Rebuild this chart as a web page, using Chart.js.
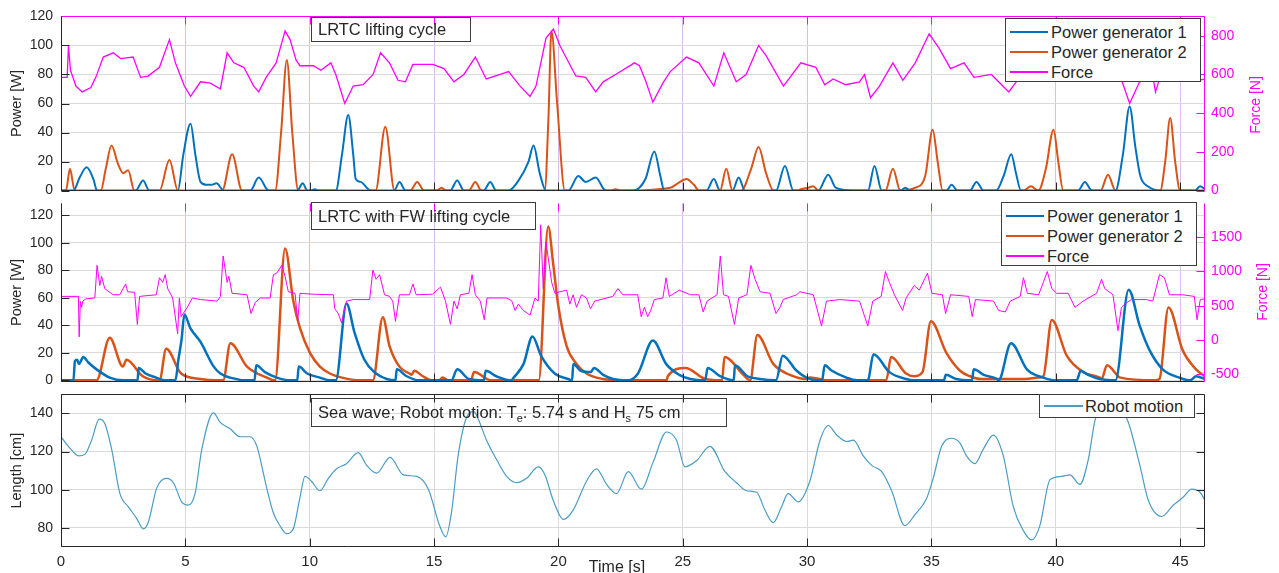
<!DOCTYPE html>
<html>
<head>
<meta charset="utf-8">
<script src="https://cdn.jsdelivr.net/npm/chart.js@4.4.1/dist/chart.umd.min.js"></script>
<style>
  body { margin: 0; background: #fff; width: 1279px; height: 573px; overflow: hidden; position: relative;
         font-family: 'Liberation Sans', Arial, sans-serif; color: #262626; }
  canvas { position: absolute; left: 0; }
  .box { position: absolute; border: 1px solid #3c3c3c; box-sizing: border-box; white-space: nowrap; font-size: 16.5px; z-index: 2; }
  .legend { background: #fff; }
  .row { position: absolute; left: 0; right: 0; height: 20px; line-height: 20px; }
  .sw { position: absolute; top: 9px; height: 2px; }
  .lbl { position: absolute; }
  .vt { position: absolute; transform: translate(-50%, -50%) rotate(-90deg); font-size: 14px; color: #ff00ff; white-space: nowrap; z-index: 2; }
  sub { font-size: 11px; vertical-align: -4px; }
</style>
</head>
<body>
<canvas id="liftChart" width="1279" height="207" style="top:0"></canvas>
<canvas id="fwChart" width="1279" height="211" style="top:187px"></canvas>
<canvas id="waveChart" width="1279" height="195" style="top:378px"></canvas>

<div class="box" style="left:311px;top:17px;width:160px;height:25px;line-height:23px;padding-left:6px">LRTC lifting cycle</div>
<div class="box" style="left:311px;top:202px;width:225px;height:28px;line-height:26px;padding-left:6px">LRTC with FW lifting cycle</div>
<div class="box" style="left:311px;top:398px;width:416px;height:29px;line-height:26px;padding-left:6px">Sea wave; Robot motion: T<sub>e</sub>: 5.74 s and H<sub>s</sub> 75 cm</div>

<div class="box legend" style="left:1005px;top:18px;width:196px;height:64px">
  <div class="row" style="top:3px"><span class="sw" style="left:4px;width:38px;background:#0072BD"></span><span class="lbl" style="left:45px">Power generator 1</span></div>
  <div class="row" style="top:23px"><span class="sw" style="left:4px;width:38px;background:#D95319"></span><span class="lbl" style="left:45px">Power generator 2</span></div>
  <div class="row" style="top:43px"><span class="sw" style="left:4px;width:38px;background:#ff00ff"></span><span class="lbl" style="left:45px">Force</span></div>
</div>
<div class="box legend" style="left:1001px;top:202px;width:196px;height:64px">
  <div class="row" style="top:3px"><span class="sw" style="left:4px;width:38px;background:#0072BD"></span><span class="lbl" style="left:45px">Power generator 1</span></div>
  <div class="row" style="top:23px"><span class="sw" style="left:4px;width:38px;background:#D95319"></span><span class="lbl" style="left:45px">Power generator 2</span></div>
  <div class="row" style="top:43px"><span class="sw" style="left:4px;width:38px;background:#ff00ff"></span><span class="lbl" style="left:45px">Force</span></div>
</div>
<div class="box legend" style="left:1039px;top:394px;width:156px;height:24px">
  <div class="row" style="top:1px"><span class="sw" style="left:4px;width:39px;background:#4a9cc4"></span><span class="lbl" style="left:45px">Robot motion</span></div>
</div>

<div class="vt" style="left:1255px;top:105px">Force [N]</div>
<div class="vt" style="left:1262px;top:292px">Force [N]</div>
<div style="position:absolute;left:617px;top:567px;transform:translate(-50%,-50%);font-size:16px;z-index:2">Time [s]</div>

<script>
// tick values
const timeTicks = [0, 5, 10, 15, 20, 25, 30, 35, 40, 45];
const powerTicks = [0, 20, 40, 60, 80, 100, 120];
const forceTicksLift = [0, 200, 400, 600, 800];
const forceTicksFW = [-500, 0, 500, 1000, 1500];
const lengthTicks = [80, 100, 120, 140];

// LRTC lifting cycle: [time s, power W]
const gen1Lift = [[0,0],[0.5,0],[0.75,9],[1.03,16],[1.3,8],[1.45,0],[3.0,0],[3.3,7],[3.55,0],[4.7,0],[4.92,25],[5.21,46],[5.4,25],[5.61,6],[5.85,4],[6.05,4],[6.25,5],[6.55,0],[7.61,0],[7.95,9],[8.35,0],[9.5,0],[9.72,5],[9.9,0],[10.05,0],[10.2,1],[10.35,0],[11.05,0],[11.3,25],[11.55,52],[11.75,25],[11.85,8],[12.05,6],[12.45,0],[13.4,0],[13.61,6],[13.85,0],[15.65,0],[15.93,7],[16.2,0],[17.0,0],[17.26,6],[17.5,0],[18.0,0],[18.4,7],[18.8,20],[19.0,31],[19.25,12],[19.5,0],[20.4,0],[20.8,10],[21.1,6],[21.5,9],[21.9,0],[23.0,0],[23.5,8],[23.86,27],[24.1,10],[24.26,0],[25.95,0],[26.25,8],[26.5,0],[27.0,0],[27.25,9],[27.5,0],[28.75,0],[29.11,17],[29.45,0],[30.45,0],[30.85,11],[31.15,2],[31.85,0],[32.45,0],[32.71,17],[33.0,0],[33.75,0],[33.95,2],[34.15,0],[35.6,0],[35.81,4],[36.05,0],[36.55,0],[36.81,6],[37.1,0],[37.6,0],[37.9,10],[38.21,25],[38.4,12],[38.6,0],[40.9,0],[41.17,6],[41.45,0],[42.4,0],[42.7,25],[42.97,58],[43.2,30],[43.4,10],[43.7,3],[44.2,0],[45.6,0],[45.8,3],[46,1]];
const gen2Lift = [[0,0],[0.2,0],[0.36,15],[0.55,0],[1.6,0],[1.8,15],[2.03,31],[2.3,18],[2.5,12],[2.7,14],[2.95,0],[3.96,0],[4.36,21],[4.7,0],[6.48,0],[6.88,25],[7.28,0],[8.61,0],[8.85,40],[9.08,90],[9.3,40],[9.54,0],[12.65,0],[13.04,44],[13.41,0],[14.05,0],[14.32,6],[14.6,0],[15.1,0],[15.3,2],[15.5,0],[16.4,0],[16.66,6],[16.9,0],[19.45,0],[19.6,50],[19.72,110],[19.95,60],[20.26,0],[22.1,0],[22.3,1],[22.5,0],[24.5,2],[24.8,5],[25.15,8],[25.45,4],[25.65,0],[26.5,0],[26.75,15],[27.0,0],[27.35,0],[27.75,15],[28.05,30],[28.35,12],[28.65,0],[29.65,0],[29.75,1],[30.05,2],[30.25,3],[30.45,0],[33.15,0],[33.45,15],[33.75,0],[34.35,2],[34.75,10],[35.05,42],[35.25,20],[35.45,0],[38.7,0],[39.0,3],[39.3,0],[39.6,15],[39.91,42],[40.1,20],[40.3,0],[41.8,0],[42.1,11],[42.4,0],[44.2,0],[44.4,20],[44.6,50],[44.8,20],[45.0,0],[46,0]];
// [time s, force N]
const forceLift = [[0,585],[0.25,585],[0.3,750],[0.38,622],[0.6,540],[0.85,510],[1.2,532],[1.4,585],[1.7,690],[2.1,712],[2.4,682],[2.9,690],[3.2,585],[3.5,592],[3.96,637],[4.36,780],[4.6,660],[4.96,540],[5.21,487],[5.61,562],[6.01,555],[6.41,525],[6.68,712],[6.95,660],[7.35,637],[7.75,540],[7.95,510],[8.25,585],[8.65,660],[9.01,825],[9.21,780],[9.45,675],[9.61,645],[10.15,645],[10.45,622],[10.85,660],[11.05,600],[11.41,450],[11.75,540],[12.15,547],[12.55,600],[12.85,712],[13.21,660],[13.55,570],[13.85,562],[14.15,652],[14.95,652],[15.4,630],[15.8,562],[16.2,600],[16.66,690],[17.1,577],[17.66,600],[18.0,615],[18.46,540],[18.86,487],[19.1,540],[19.5,787],[19.8,835],[20.06,750],[20.3,690],[20.7,592],[21.1,585],[21.5,510],[21.8,562],[22.3,600],[23.06,660],[23.26,645],[23.5,570],[23.8,457],[24.2,555],[24.5,615],[25.15,690],[25.65,660],[26.25,540],[26.65,712],[27.15,562],[27.55,600],[28.05,750],[28.35,697],[29.05,540],[29.75,660],[30.35,637],[30.71,547],[31.05,577],[31.55,547],[32.11,562],[32.31,600],[32.55,480],[32.91,540],[33.45,660],[33.85,570],[34.35,660],[34.91,810],[35.31,735],[35.77,630],[36.31,660],[36.71,585],[37.41,600],[38.11,510],[38.41,562],[39.0,637],[39.7,675],[40.4,630],[41.2,660],[42.0,645],[42.57,600],[42.97,450],[43.37,562],[43.91,585],[44.01,510],[44.17,577],[44.8,600],[45.4,585],[45.77,570],[46,577]];

// LRTC with FW lifting cycle
const gen1FW = [[0,0],[0.5,0],[0.56,14],[0.65,15],[0.72,12],[0.9,17],[1.1,13],[1.43,8],[1.96,2],[2.5,0],[3.08,0],[3.12,9],[3.4,5],[3.83,2],[4.2,0],[4.6,0],[4.72,15],[4.85,30],[4.96,48],[5.2,38],[5.61,28],[6.14,10],[6.41,5],[6.8,2],[7.5,0],[7.78,0],[7.85,11],[8.2,6],[8.68,2],[9.2,0],[9.5,0],[9.56,10],[9.9,5],[10.41,2],[10.8,0],[11.05,0],[11.48,56],[11.8,35],[12.2,15],[12.6,6],[13.1,1],[13.45,0],[13.5,8],[13.9,3],[14.4,0],[15.7,0],[15.93,8],[16.4,1],[17.0,0],[17.08,7],[17.5,3],[18.1,0],[18.2,2],[18.6,12],[18.96,32],[19.3,18],[19.85,5],[20.4,1],[20.55,0],[20.6,12],[20.9,7],[21.3,6],[21.43,9],[21.8,4],[22.2,1],[22.8,0],[23.2,5],[23.8,29],[24.33,12],[24.86,4],[25.3,1],[25.9,0],[26.0,9],[26.5,3],[27.05,0],[27.1,11],[27.6,3],[28.1,1],[28.75,0],[29.02,18],[29.58,7],[29.98,2],[30.4,0],[30.6,0],[30.71,11],[31.0,7],[31.58,2],[32.0,0],[32.44,0],[32.67,19],[33.31,6],[33.98,1],[34.3,0],[35.5,0],[35.58,4],[36.0,1],[36.5,0],[36.63,0],[36.7,8],[37.1,4],[37.64,1],[37.7,0],[38.2,27],[38.84,8],[39.5,2],[40.0,0],[40.84,0],[41.0,7],[41.3,4],[41.77,1],[42.4,0],[42.93,66],[43.37,40],[43.77,22],[44.3,8],[44.97,2],[45.4,0],[45.64,3],[46,1]];
const gen2FW = [[0,0],[1.43,0],[1.96,31],[2.49,10],[2.63,15],[3.29,3],[3.96,0],[4.23,23],[4.83,5],[5.61,1],[6.2,0],[6.52,0],[6.81,27],[7.48,10],[8.28,2],[8.61,0],[9.01,96],[9.34,58],[9.61,38],[10.01,20],[10.41,10],[10.81,5],[11.3,2],[12.0,0],[12.54,0],[12.94,46],[13.21,25],[13.61,10],[14.01,5],[14.1,4],[14.2,7],[14.55,3],[14.9,0],[15.2,0],[15.34,2],[15.6,0],[16.48,0],[16.61,6],[17.3,0],[19.21,0],[19.59,112],[19.79,85],[19.99,55],[20.33,25],[20.73,12],[21.13,5],[21.79,1],[22.5,0],[24.35,0],[24.4,3],[25.11,9],[25.9,1],[26.58,0],[26.68,17],[27.44,4],[27.71,0],[28.0,33],[28.64,12],[29.31,4],[29.98,1],[30.1,2],[30.5,1],[30.8,0],[33.18,0],[33.38,17],[33.98,5],[34.31,3],[34.64,6],[34.98,43],[35.6,20],[36.15,7],[36.55,3],[37.0,1],[38.77,1],[39.3,2],[39.5,3],[39.84,44],[40.44,18],[41.1,6],[41.77,2],[41.84,1],[42.06,11],[42.6,2],[44.0,0],[44.17,1],[44.53,53],[45.1,22],[45.64,8],[46,3]];
const forceFW = [[0,636],[0.7,636],[0.73,45],[0.78,560],[0.83,477],[0.88,567],[1.0,600],[1.36,613],[1.45,1090],[1.56,795],[1.63,930],[1.76,750],[2.09,660],[2.36,660],[2.6,818],[2.68,704],[2.96,695],[3.07,226],[3.16,636],[3.83,660],[3.96,908],[4.09,840],[4.19,954],[4.29,750],[4.49,613],[4.69,90],[4.76,613],[4.83,340],[5.08,477],[5.28,613],[5.61,590],[6.28,567],[6.41,636],[6.52,1227],[6.68,840],[6.75,930],[6.88,681],[7.48,660],[7.64,386],[7.81,545],[8.01,613],[8.41,613],[8.54,954],[8.68,977],[8.88,1090],[9.01,930],[9.14,704],[9.41,681],[9.52,272],[9.61,681],[10.15,668],[10.95,660],[11.01,454],[11.15,386],[11.28,250],[11.48,567],[11.75,590],[12.41,590],[12.54,1022],[12.67,886],[12.81,954],[13.01,660],[13.21,636],[13.34,567],[13.45,272],[13.61,660],[14.01,660],[14.15,818],[14.28,660],[14.94,668],[15.26,772],[15.46,567],[15.66,226],[15.8,567],[15.93,454],[16.06,660],[16.4,681],[16.53,954],[16.66,660],[16.86,567],[17.02,295],[17.13,613],[17.93,613],[18.13,567],[18.26,431],[18.39,522],[18.59,431],[18.86,363],[19.06,613],[19.19,567],[19.29,1681],[19.39,750],[19.5,1431],[19.59,1204],[19.73,840],[19.86,681],[20.06,704],[20.33,727],[20.46,522],[20.59,660],[20.73,477],[20.93,660],[21.13,613],[21.29,454],[21.46,567],[22.19,636],[22.39,750],[22.59,660],[23.19,660],[23.33,340],[23.46,477],[23.59,340],[23.7,420],[23.86,590],[24.2,613],[24.33,908],[24.46,636],[24.86,727],[25.31,660],[25.65,660],[25.82,409],[25.98,567],[26.38,660],[26.51,1227],[26.64,660],[26.84,636],[27.08,226],[27.25,613],[27.58,660],[27.74,1090],[27.91,886],[28.11,704],[28.51,681],[28.75,386],[28.91,477],[29.04,590],[29.58,660],[29.71,704],[30.25,660],[30.58,204],[30.78,567],[31.31,590],[32.11,567],[32.44,204],[32.64,567],[32.98,636],[33.15,999],[33.31,840],[33.51,660],[33.84,431],[33.98,613],[34.31,795],[34.51,727],[34.84,977],[35.02,681],[35.44,660],[35.57,386],[35.77,660],[36.5,636],[36.64,340],[36.77,590],[37.5,567],[37.7,431],[37.97,409],[38.17,567],[38.57,636],[38.7,908],[38.86,681],[39.31,660],[39.5,840],[39.66,999],[39.84,750],[40.04,681],[40.5,681],[40.77,477],[41.1,567],[41.64,681],[41.84,886],[41.97,750],[42.3,660],[42.5,136],[42.64,477],[42.77,522],[43.04,590],[43.64,590],[43.9,567],[44.17,954],[44.37,908],[44.57,660],[45.1,660],[45.57,636],[45.68,295],[45.81,590],[46,600]];

// Sea wave: [time s, length cm]
const robotMotion = [[0,127.8],[0.35,122],[0.7,117.8],[0.97,118.7],[1.23,126],[1.54,137],[1.77,134.5],[2.04,121],[2.37,98],[2.71,91],[3.04,85],[3.31,79.5],[3.51,83],[3.85,101],[4.25,106],[4.52,103.7],[4.85,93.7],[5.12,92],[5.39,98],[5.66,121],[6.13,140.3],[6.4,135.3],[6.8,132],[7.2,127.8],[7.6,127.8],[7.87,123],[8.27,101],[8.54,87.8],[8.81,81],[9.07,77],[9.34,79.5],[9.61,96],[9.81,107],[10.07,104.5],[10.41,99.5],[10.75,106],[11.08,111],[11.48,113.7],[11.95,119.5],[12.29,112.8],[12.69,108.7],[13.23,117],[13.77,107.8],[14.3,107],[14.77,100.3],[15.23,81],[15.47,75.3],[15.7,88],[15.97,118],[16.31,138],[16.6,141],[16.78,137],[17.11,126],[17.51,116],[17.92,107],[18.32,103.7],[18.72,106],[19.19,112],[19.46,107.8],[19.79,94.5],[20.2,84.5],[20.6,89.5],[21.13,104.5],[21.53,111],[21.94,102.8],[22.34,98],[22.81,109.5],[23.34,100.3],[23.81,114.5],[24.35,130.3],[24.75,126],[25.09,112],[25.56,115.3],[26.09,122.8],[26.7,109.5],[27.16,103.7],[27.57,99.5],[27.97,98.7],[28.3,89.5],[28.64,82.8],[28.97,91],[29.24,98],[29.64,93.7],[30.11,104.5],[30.52,126],[30.85,133.7],[31.19,128.7],[31.59,125.3],[31.86,126],[32.26,117.8],[32.6,112.8],[33.0,109.5],[33.4,99.5],[33.93,81.2],[34.34,87],[34.8,95.3],[35.07,106],[35.41,122.8],[35.81,127],[36.15,124.5],[36.41,117.8],[36.75,113.7],[37.08,121.2],[37.49,128.7],[37.89,117.8],[38.29,91.2],[38.69,78.7],[39.03,73.7],[39.36,81.2],[39.77,105.3],[40.23,107],[40.57,107.8],[40.97,102.8],[41.31,116],[41.57,136],[41.9,146],[42.3,148],[42.65,142],[42.92,135.3],[43.38,112.8],[43.72,94.5],[44.26,86],[44.73,92],[45.13,96.2],[45.46,100.3],[45.8,98.7],[46,94.5]];

const BLUE = '#0072BD', ORANGE = '#D95319', MAGENTA = '#ff00ff', WAVE = '#4a9cc4', INK = '#262626';
const tickFont = { family: "'Liberation Sans', Arial, sans-serif", size: 14 };

// draws box edges and MATLAB-style inward ticks
const framePlugin = {
  id: 'frame',
  afterDatasetsDraw(chart, args, opts) {
    if (!opts || !opts.sides) return;
    const { ctx, chartArea: a } = chart;
    const L = Math.round(a.left) + 0.5, R = Math.round(a.right) - 0.5;
    const T = Math.round(a.top) + 0.5, B = Math.round(a.bottom) - 0.5;
    ctx.save();
    ctx.lineWidth = 1;
    const line = (c, x1, y1, x2, y2) => { ctx.strokeStyle = c; ctx.beginPath(); ctx.moveTo(x1, y1); ctx.lineTo(x2, y2); ctx.stroke(); };
    (opts.ticks || []).forEach((t) => {
      const s = chart.scales[t.scale];
      s.ticks.forEach((tk) => {
        const p = Math.round(s.getPixelForValue(tk.value)) + 0.5;
        if (t.edge === 'bottom') line(t.color, p, B, p, B - 8);
        if (t.edge === 'top') line(t.color, p, T, p, T + 8);
        if (t.edge === 'left') line(t.color, L, p, L + 8, p);
        if (t.edge === 'right') line(t.color, R, p, R - 8, p);
      });
    });
    const sd = opts.sides;
    if (sd.top) line(sd.top, L, T, R, T);
    if (sd.bottom) line(sd.bottom, L, B, R, B);
    if (sd.left) line(sd.left, L, T, L, B);
    if (sd.right) line(sd.right, R, T, R, B);
    ctx.restore();
  },
};
Chart.register(framePlugin);

const pts = (arr) => arr.map(([x, y]) => ({ x, y }));
const setTicks = (vals) => (s) => { s.ticks = vals.map((v) => ({ value: v })); };
const plain = (v) => String(v);

function series(data, color, width, axis, smooth) {
  return {
    data: pts(data), borderColor: color, borderWidth: width, yAxisID: axis,
    pointRadius: 0, fill: false, tension: smooth ? 0.4 : 0,
    cubicInterpolationMode: smooth ? 'monotone' : 'default',
  };
}

function xAxis(gridColor, showLabels) {
  return {
    type: 'linear', min: 0, max: 46,
    afterBuildTicks: setTicks(timeTicks),
    grid: { color: gridColor, drawTicks: false },
    border: { display: false },
    ticks: { display: showLabels, color: INK, font: { ...tickFont, size: 15 }, padding: 6, callback: plain },
    afterFit: (s) => { s.height = showLabels ? 26 : 0; },
  };
}

function leftAxis(min, max, vals, title) {
  return {
    position: 'left', min, max,
    afterBuildTicks: setTicks(vals),
    grid: { color: '#dadada', drawTicks: false },
    border: { display: false },
    ticks: { color: INK, font: tickFont, padding: 8, callback: plain },
    title: { display: true, text: title, color: INK, font: { ...tickFont, size: 14.5 }, padding: { top: 8, bottom: 0 } },
    afterFit: (s) => { s.width = 61; },
  };
}

function rightAxis(min, max, vals, color, showLabels) {
  return {
    position: 'right', min, max,
    afterBuildTicks: setTicks(vals),
    grid: { display: false, drawTicks: false },
    border: { display: false },
    ticks: { display: showLabels, color, font: tickFont, padding: 6, callback: plain },
    afterFit: (s) => { s.width = 74; },
  };
}

function baseOptions(padding, scales, frame) {
  return {
    responsive: false, animation: false, devicePixelRatio: 1,
    layout: { padding },
    plugins: { legend: { display: false }, tooltip: { enabled: false }, frame },
    scales,
  };
}

new Chart(document.getElementById('liftChart'), {
  type: 'line',
  data: { datasets: [
    series(forceLift, MAGENTA, 1.3, 'y2', false),
    series(gen1Lift, BLUE, 2, 'y', true),
    series(gen2Lift, ORANGE, 2, 'y', true),
  ] },
  options: baseOptions({ top: 13, bottom: 10, left: 0, right: 0 }, {
    x: xAxis('rgba(196,140,222,0.6)', false),
    y: leftAxis(0, 120, powerTicks, 'Power [W]'),
    y2: rightAxis(0, 900, forceTicksLift, MAGENTA, true),
  }, {
    sides: { top: MAGENTA, right: MAGENTA, left: INK, bottom: INK },
    ticks: [
      { scale: 'x', edge: 'top', color: MAGENTA }, { scale: 'x', edge: 'bottom', color: INK },
      { scale: 'y', edge: 'left', color: INK }, { scale: 'y2', edge: 'right', color: MAGENTA },
    ],
  }),
});

new Chart(document.getElementById('fwChart'), {
  type: 'line',
  data: { datasets: [
    series(forceFW, MAGENTA, 1, 'y2', false),
    series(gen1FW, BLUE, 2.5, 'y', true),
    series(gen2FW, ORANGE, 2.5, 'y', true),
  ] },
  options: baseOptions({ top: 10, bottom: 10, left: 0, right: 0 }, {
    x: xAxis('rgba(196,140,222,0.6)', false),
    y: leftAxis(-0.9, 128.8, powerTicks, 'Power [W]'),
    y2: rightAxis(-609, 1995, forceTicksFW, MAGENTA, true),
  }, {
    sides: { right: MAGENTA, left: INK, bottom: INK },
    ticks: [
      { scale: 'x', edge: 'top', color: MAGENTA }, { scale: 'x', edge: 'bottom', color: INK },
      { scale: 'y', edge: 'left', color: INK }, { scale: 'y2', edge: 'right', color: MAGENTA },
    ],
  }),
});

new Chart(document.getElementById('waveChart'), {
  type: 'line',
  data: { datasets: [series(robotMotion, WAVE, 1.2, 'y', true)] },
  options: baseOptions({ top: 10, bottom: 0, left: 0, right: 0 }, {
    x: xAxis('#dadada', true),
    y: leftAxis(70, 150, lengthTicks, 'Length [cm]'),
    y2: rightAxis(70, 150, lengthTicks, INK, false),
  }, {
    sides: { top: INK, right: INK, left: INK, bottom: INK },
    ticks: [
      { scale: 'x', edge: 'top', color: INK }, { scale: 'x', edge: 'bottom', color: INK },
      { scale: 'y', edge: 'left', color: INK }, { scale: 'y2', edge: 'right', color: INK },
    ],
  }),
});
</script>
</body>
</html>
